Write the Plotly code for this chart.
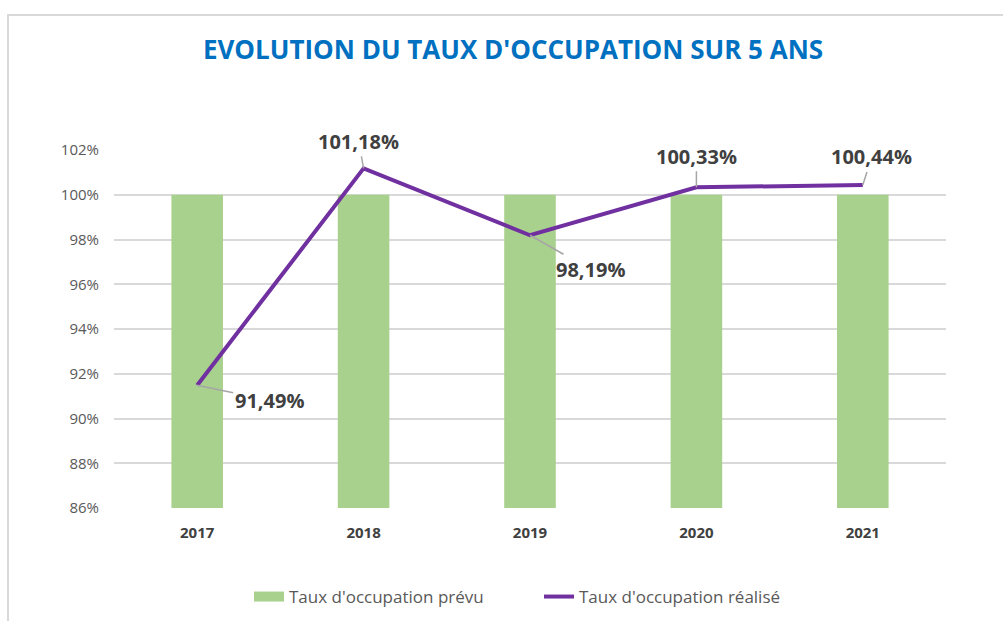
import plotly.graph_objects as go

years = ["2017", "2018", "2019", "2020", "2021"]
prevu = [100, 100, 100, 100, 100]
realise = [91.49, 101.18, 98.19, 100.33, 100.44]
label_offsets = [(72, 15), (-5, -27), (60, 34), (0, -31), (9, -28)]

W, H = 1003, 621
ML, MR, MT, MB = 114, 57, 150, 113
pw, ph = W - ML - MR, H - MT - MB
GREEN, PURPLE = "#A9D18E", "#7030A0"

fig = go.Figure()
fig.add_trace(go.Bar(x=years, y=prevu, name="Taux d'occupation prévu",
                     marker=dict(color=GREEN, line=dict(width=0)), showlegend=False))
# legend proxy for the bars (wide rectangle swatch)
fig.add_trace(go.Scatter(x=[None], y=[None], name="Taux d'occupation prévu",
                         mode="lines", line=dict(color=GREEN, width=10)))
fig.add_trace(go.Scatter(x=years, y=realise, name="Taux d'occupation réalisé",
                         mode="lines", line=dict(color=PURPLE, width=4)))

for i, (v, (ax, ay)) in enumerate(zip(realise, label_offsets)):
    fig.add_annotation(x=i, y=v, text=f"<b>{v:.2f}%</b>".replace(".", ","),
                       showarrow=True, arrowhead=0, arrowwidth=1.5, arrowcolor="#A6A6A6",
                       ax=ax, ay=ay, font=dict(family="Open Sans", size=20, color="#404040"),
                       standoff=0)

def px_x(p):
    return (p - ML) / pw

def px_y(p):
    return (H - MB - p) / ph

fig.add_shape(type="rect", xref="paper", yref="paper",
              x0=px_x(8), x1=px_x(1030), y0=px_y(660), y1=px_y(15),
              line=dict(color="#D9D9D9", width=2), fillcolor="rgba(0,0,0,0)", layer="below")

fig.update_layout(
    width=W, height=H,
    margin=dict(l=ML, r=MR, t=MT, b=MB),
    plot_bgcolor="white", paper_bgcolor="white",
    bargap=0.69,
    title=dict(text="<b>EVOLUTION DU TAUX D'OCCUPATION SUR 5 ANS</b>",
               x=513 / W, xanchor="center", y=1 - 50 / H, yanchor="middle",
               font=dict(family="Open Sans", size=26, color="#0070C0")),
    xaxis=dict(type="category", range=[-0.5, 4.5], showgrid=False, showline=False, ticks="",
               ticklabelstandoff=14,
               tickfont=dict(family="Open Sans", size=15, color="#404040", weight="bold")),
    yaxis=dict(range=[86, 102], dtick=2, ticksuffix="%", showgrid=True,
               gridcolor="#D9D9D9", gridwidth=1.5, zeroline=False, showline=False,
               ticklabelstandoff=14,
               tickfont=dict(family="Open Sans", size=15, color="#595959")),
    legend=dict(orientation="h", xref="container", yref="container",
                x=249 / W, xanchor="left", y=1 - 597 / H, yanchor="middle",
                font=dict(family="Open Sans", size=17, color="#595959"), traceorder="normal",
                entrywidth=245, entrywidthmode="pixels"),
    showlegend=True,
)

fig.write_html("out.html", config={"displayModeBar": False},
               post_script="document.body.style.margin='0';document.body.style.overflow='hidden';")
